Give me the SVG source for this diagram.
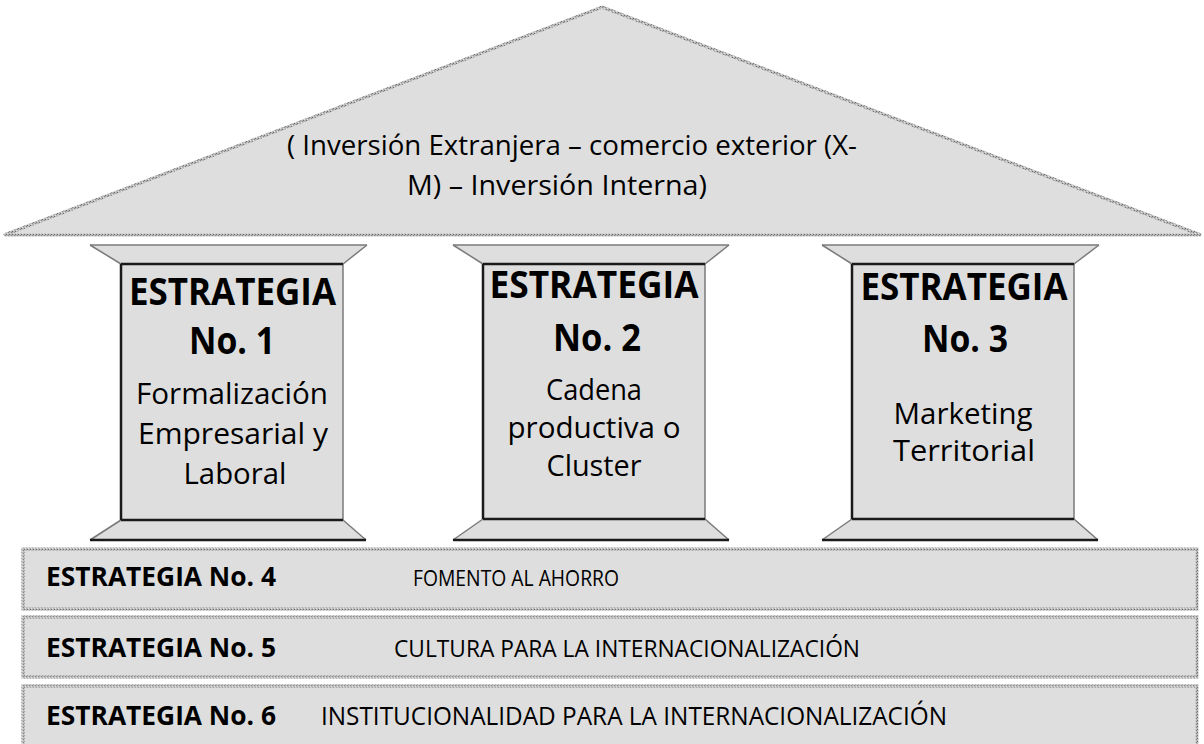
<svg xmlns="http://www.w3.org/2000/svg" width="1204" height="744" viewBox="0 0 1204 744">
  <defs>
    <pattern id="tex" width="3" height="3" patternUnits="userSpaceOnUse">
      <rect width="3" height="3" fill="#b8b8b8"/>
      <rect width="1" height="1" fill="#6e6e6e"/>
      <rect x="2" y="1" width="1" height="1" fill="#8a8a8a"/>
      <rect x="1" y="2" width="1" height="1" fill="#e0e0e0"/>
    </pattern>
  </defs>
  <style>
    .fill { fill: #dedede; }
    .tex { fill: #dedede; stroke: url(#tex); stroke-width: 3; }
    .dark { stroke: #1a1a1a; stroke-width: 2.5; fill: none; }
    .grey { stroke: #7a7a7a; stroke-width: 1.5; fill: none; }
    .t { font-family: "Open Sans", "Liberation Sans", sans-serif; fill: #000; }
    .h { font-size: 38px; font-weight: bold; text-anchor: middle; }
    .b { font-size: 30px; text-anchor: middle; }
    .r { font-size: 27px; text-anchor: middle; }
    .bl { font-size: 27px; font-weight: bold; }
    .br { font-size: 23.5px; }
  </style>
  <rect width="1204" height="744" fill="#ffffff"/>

  <g id="roof">
    <polygon class="tex" points="602,7 1201,235 4,235"/>
    <text class="t r" x="572" y="155" textLength="570" lengthAdjust="spacingAndGlyphs">( Inversión Extranjera  – comercio exterior (X-</text>
    <text class="t r" x="557" y="195" textLength="300" lengthAdjust="spacingAndGlyphs">M) – Inversión Interna)</text>
  </g>

  <g id="pillar1">
    <polygon class="fill" points="90,245 367,245 343,264 343,520 366,540 90,540 121,520 121,264"/>
    <line class="grey" x1="90" y1="245" x2="121" y2="264"/>
    <line class="grey" x1="367" y1="245" x2="343" y2="264"/>
    <line class="grey" x1="343" y1="264" x2="343" y2="520"/>
    <line class="grey" x1="121" y1="520" x2="90" y2="540"/>
    <line class="grey" x1="343" y1="520" x2="366" y2="540"/>
    <line class="grey" x1="90" y1="245" x2="367" y2="245"/>
    <line class="dark" x1="121" y1="264" x2="343" y2="264"/>
    <line class="dark" x1="121" y1="264" x2="121" y2="520"/>
    <line class="dark" x1="121" y1="520" x2="343" y2="520"/>
    <line class="dark" x1="90" y1="540" x2="366" y2="540"/>
    <text class="t h" x="232.5" y="305" textLength="207" lengthAdjust="spacingAndGlyphs">ESTRATEGIA</text>
    <text class="t h" x="232" y="354" textLength="86" lengthAdjust="spacingAndGlyphs">No. 1</text>
    <text class="t b" x="232" y="404" textLength="192" lengthAdjust="spacingAndGlyphs">Formalización</text>
    <text class="t b" x="233" y="444" textLength="190" lengthAdjust="spacingAndGlyphs">Empresarial y</text>
    <text class="t b" x="235" y="484" textLength="103" lengthAdjust="spacingAndGlyphs">Laboral</text>
  </g>

  <g id="pillar2">
    <polygon class="fill" points="453,245 729,245 705,264 705,519 729,540 453,540 483,519 483,264"/>
    <line class="grey" x1="453" y1="245" x2="483" y2="264"/>
    <line class="grey" x1="729" y1="245" x2="705" y2="264"/>
    <line class="grey" x1="705" y1="264" x2="705" y2="519"/>
    <line class="grey" x1="483" y1="519" x2="453" y2="540"/>
    <line class="grey" x1="705" y1="519" x2="729" y2="540"/>
    <line class="grey" x1="453" y1="245" x2="729" y2="245"/>
    <line class="dark" x1="483" y1="264" x2="705" y2="264"/>
    <line class="dark" x1="483" y1="264" x2="483" y2="519"/>
    <line class="dark" x1="483" y1="519" x2="705" y2="519"/>
    <line class="dark" x1="453" y1="540" x2="729" y2="540"/>
    <text class="t h" x="594" y="298" textLength="209" lengthAdjust="spacingAndGlyphs">ESTRATEGIA</text>
    <text class="t h" x="597" y="351" textLength="88" lengthAdjust="spacingAndGlyphs">No. 2</text>
    <text class="t b" x="594" y="400" textLength="96" lengthAdjust="spacingAndGlyphs">Cadena</text>
    <text class="t b" x="594" y="438" textLength="173" lengthAdjust="spacingAndGlyphs">productiva o</text>
    <text class="t b" x="594" y="476" textLength="95" lengthAdjust="spacingAndGlyphs">Cluster</text>
  </g>

  <g id="pillar3">
    <polygon class="fill" points="822,245 1099,245 1074,264 1074,519 1098,540 822,540 852,519 852,264"/>
    <line class="grey" x1="822" y1="245" x2="852" y2="264"/>
    <line class="grey" x1="1099" y1="245" x2="1074" y2="264"/>
    <line class="grey" x1="1074" y1="264" x2="1074" y2="519"/>
    <line class="grey" x1="852" y1="519" x2="822" y2="540"/>
    <line class="grey" x1="1074" y1="519" x2="1098" y2="540"/>
    <line class="grey" x1="822" y1="245" x2="1099" y2="245"/>
    <line class="dark" x1="852" y1="264" x2="1074" y2="264"/>
    <line class="dark" x1="852" y1="264" x2="852" y2="519"/>
    <line class="dark" x1="852" y1="519" x2="1074" y2="519"/>
    <line class="dark" x1="822" y1="540" x2="1098" y2="540"/>
    <text class="t h" x="964" y="300" textLength="207" lengthAdjust="spacingAndGlyphs">ESTRATEGIA</text>
    <text class="t h" x="965" y="352" textLength="86" lengthAdjust="spacingAndGlyphs">No. 3</text>
    <text class="t b" x="963" y="424" textLength="139" lengthAdjust="spacingAndGlyphs">Marketing</text>
    <text class="t b" x="964" y="461" textLength="142" lengthAdjust="spacingAndGlyphs">Territorial</text>
  </g>

  <g id="bar4">
    <rect class="tex" x="23" y="549" width="1174" height="60"/>
    <text class="t bl" x="46" y="586" textLength="230" lengthAdjust="spacingAndGlyphs">ESTRATEGIA No. 4</text>
    <text class="t br" x="413" y="586" textLength="206" lengthAdjust="spacingAndGlyphs" style="font-size:21.5px">FOMENTO AL AHORRO</text>
  </g>

  <g id="bar5">
    <rect class="tex" x="23" y="617" width="1174" height="60"/>
    <text class="t bl" x="46" y="657" textLength="230" lengthAdjust="spacingAndGlyphs">ESTRATEGIA No. 5</text>
    <text class="t br" x="394" y="657" textLength="466" lengthAdjust="spacingAndGlyphs">CULTURA PARA LA INTERNACIONALIZACIÓN</text>
  </g>

  <g id="bar6">
    <rect class="tex" x="23" y="686" width="1174" height="60"/>
    <text class="t bl" x="46" y="725" textLength="230" lengthAdjust="spacingAndGlyphs">ESTRATEGIA No. 6</text>
    <text class="t br" x="321" y="725" textLength="626" lengthAdjust="spacingAndGlyphs" style="font-size:25px">INSTITUCIONALIDAD PARA LA INTERNACIONALIZACIÓN</text>
  </g>
</svg>
